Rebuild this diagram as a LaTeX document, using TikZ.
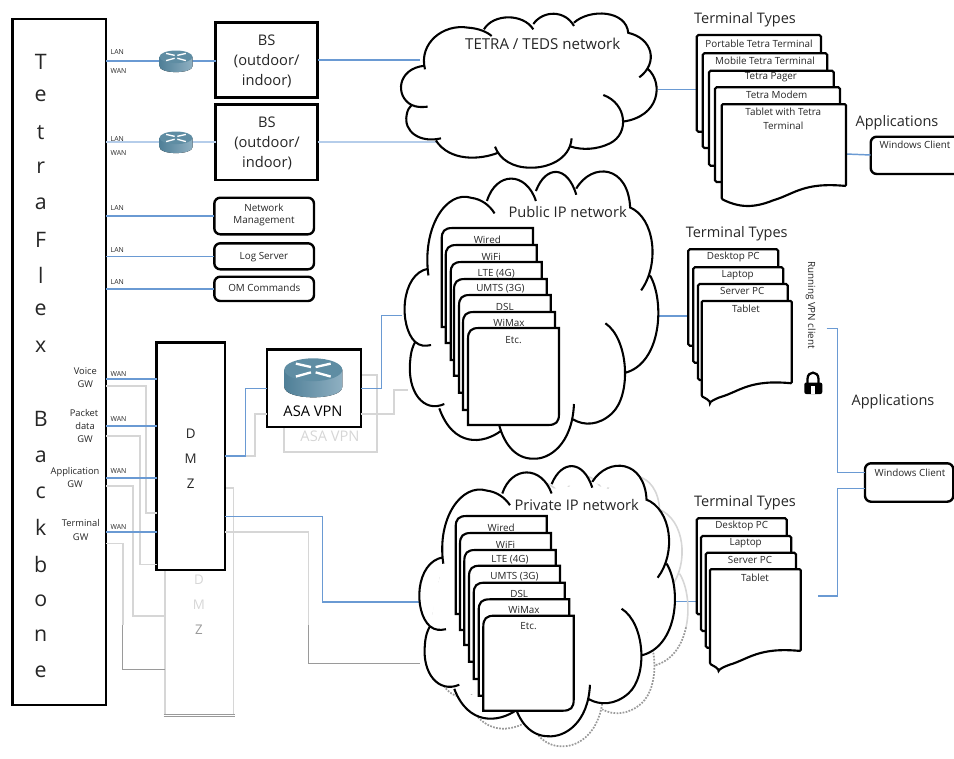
\documentclass[tikz,border=0pt]{standalone}
\usepackage{fontspec}
\setmainfont{Open Sans}
\usetikzlibrary{fit}
\definecolor{linkblue}{HTML}{6A9AD3}
\definecolor{linkpale}{HTML}{B5CDEA}
\definecolor{ghost}{HTML}{D6D6D6}
\definecolor{ghostdark}{HTML}{9A9A9A}
\definecolor{ink}{HTML}{262626}
\definecolor{routerA}{HTML}{4F7F97}
\definecolor{routerB}{HTML}{8FB0C2}
\definecolor{routerTop}{HTML}{5F8DA3}
\newcounter{lbl}
\newcommand{\lab}[4][]{\stepcounter{lbl}\node[txt,#1] (lbl\thelbl) at (#2,#3) {#4};}
\newcommand{\cloudarcs}{
 (75,208) .. controls (55,130) and (130,70) .. (205,83) .. controls (235,85) and (260,95) .. (275,108)
 (252,88) .. controls (280,40) and (370,40) .. (400,88)
 (400,72) .. controls (430,30) and (495,30) .. (522,78)
 (522,68) .. controls (570,25) and (680,30) .. (685,100)
 (683,98) .. controls (760,115) and (775,190) .. (718,232)
 (745,208) .. controls (790,250) and (780,350) .. (668,365)
 (610,285) .. controls (680,310) and (690,400) .. (630,430) .. controls (590,450) and (545,450) .. (513,440)
 (515,415) .. controls (510,480) and (440,505) .. (390,503) .. controls (340,503) and (300,480) .. (285,440)
 (295,458) .. controls (240,480) and (150,485) .. (108,422)
 (123,415) .. controls (60,430) and (10,395) .. (20,345) .. controls (22,330) and (28,322) .. (35,315)
 (35,315) .. controls (50,322) and (65,322) .. (83,320)
 (35,315) .. controls (-15,290) and (-10,205) .. (75,197)
}
\newcommand{\cloudfill}{
 \fill[white] \cloudarcs;
 \fill[white] (75,200) -- (252,88) -- (400,80) -- (522,72) -- (685,100) -- (745,208) -- (668,365) -- (630,430) -- (513,440) -- (390,503) -- (285,450) -- (108,422) -- (20,345) -- (35,315) -- cycle;
}
\newcommand{\stacktab}[6]{
 \draw[stackline,fill=white] (#1,#4) -- (#1,{#2+11}) .. controls (#1,{#2+3}) and ({#1+3},#2) .. ({#1+11},#2) -- (#3,#2) -- (#3,{#4-11}) .. controls (#3,{#4-3}) and ({#3-3},#4) .. ({#3-11},#4) -- cycle;
 \lab[t8]{{(#1+#3)/2}}{{#2+#5}}{#6}
}
\newcommand{\termrect}[4]{
 \draw[stackline,fill=white,rounded corners=1.2pt] (#1,#2) rectangle (#3,#4);
}
\newcommand{\docshape}[4]{
 \draw[stackline,fill=white,rounded corners=0.8pt] (#1,#2) -- (#3,#2) -- (#3,#4)
  .. controls ({#3-42},{#4-4}) and ({#3-52},{#4+8}) .. ({#3-72},{#4+14})
  .. controls ({#3-92},{#4+22}) and ({#1+18},{#4+22}) .. (#1,{#4+13}) -- cycle;
}
\newcommand{\routericon}[4]{
 \fill[left color=routerA,right color=routerB] ({#1-#3/2},{#2-#4*.2}) -- ({#1-#3/2},{#2+#4*.25}) .. controls ({#1-#3/2},{#2+#4*.62}) and ({#1+#3/2},{#2+#4*.62}) .. ({#1+#3/2},{#2+#4*.25}) -- ({#1+#3/2},{#2-#4*.2}) -- cycle;
 \fill[routerTop] (#1,{#2-#4*.2}) ellipse[x radius=#3/2,y radius=#4*.3];
 \draw[white,line width=#3*.03pt] ({#1-#3*.3},{#2-#4*.36}) -- ({#1-#3*.04},{#2-#4*.27});
 \draw[white,line width=#3*.03pt] ({#1+#3*.3},{#2-#4*.36}) -- ({#1+#3*.04},{#2-#4*.27});
 \draw[white,line width=#3*.03pt] ({#1-#3*.3},{#2-#4*.02}) -- ({#1-#3*.04},{#2-#4*.13});
 \draw[white,line width=#3*.03pt] ({#1+#3*.3},{#2-#4*.02}) -- ({#1+#3*.04},{#2-#4*.13});
}
\tikzset{
 txt/.style={text=ink,inner sep=0pt,outer sep=0pt,anchor=center},
 t5/.style={font=\fontsize{5.2}{6}\selectfont},
 t7/.style={font=\fontsize{7}{8}\selectfont},
 t8/.style={font=\fontsize{7.4}{8}\selectfont},
 t10/.style={font=\fontsize{10}{12}\selectfont},
 thead/.style={font=\fontsize{10.9}{13}\selectfont},
 t11/.style={font=\fontsize{11}{13}\selectfont},
 t13/.style={font=\fontsize{16}{18}\selectfont},
 mainbox/.style={draw=black,line width=2pt,fill=white,inner sep=0pt,outer sep=0pt},
 softbox/.style={mainbox,line width=1.8pt,rounded corners=4.5pt},
 stackline/.style={draw=black,line width=1.6pt},
 linkmain/.style={draw=linkblue,line width=1.1pt},
 linklight/.style={draw=linkpale,line width=.8pt},
 linkghost/.style={draw=ghost,line width=1.2pt},
}
\begin{document}
\begin{tikzpicture}[x=.75pt,y=-.75pt]
\useasboundingbox (0,0) rectangle (954,758);
% coordinates that ports and icons hang on
\coordinate (r1) at (176,61);
\coordinate (r2) at (176,142);
\coordinate (tetraW1) at (420,60);
\coordinate (tetraW2) at (437,142);
\coordinate (tetraE) at (658,89.3);
\coordinate (pubW) at (402,315.7);
\coordinate (pubWg) at (408,390);
\coordinate (pubE) at (658,316);
\coordinate (privW) at (420,602);
\coordinate (privWg) at (420,663.3);
\coordinate (privE) at (675,601.7);
\coordinate (vpnEnd) at (826.7,328.3);
\coordinate (tabEnd) at (817.7,596);
% ghost boxes
\node[txt,t11,text=ghost] (ghostasa) at (330,436.7) {ASA VPN};
\draw[linkghost] (360.7,375) -- (376.7,375) -- (376.7,451.7) -- (284,451.7) -- (284,426.7);
\draw[linkghost] (225,487.7) -- (233.3,487.7) -- (233.3,715);
\draw[linkghost] (165,570) -- (165,715);
\draw[ghostdark,line width=.5pt] (163.5,714) -- (234.5,714) (163.5,716.5) -- (234.5,716.5);
\node[txt,t10,text=ghost] (ghostd) at (199,580) {D};
\node[txt,t10,text=ghost] (ghostm) at (199,605) {M};
\node[txt,t10,text=ghostdark] (ghostz) at (199,629.3) {Z};
% main boxes
\node[mainbox,fit={(12.3,19)(106,705)}] (tf) {};
\node[mainbox,fit={(215.7,22.3)(317.7,97.7)}] (bs1) {};
\node[mainbox,fit={(215.7,104.3)(317.7,180)}] (bs2) {};
\node[softbox,fit={(214.3,197.7)(314,234.3)}] (nm) {};
\node[softbox,fit={(214.3,243.3)(314,269.3)}] (logs) {};
\node[softbox,fit={(214.3,276.7)(314,301)}] (om) {};
\node[mainbox,fit={(156.7,342.3)(225,570)}] (dmz) {};
\node[mainbox,line width=1.8pt,fit={(266.7,349.3)(360.7,426.7)}] (asa) {};
\node[softbox,fit={(870.7,136.7)(960,174)}] (wc1) {};
\node[softbox,fit={(865,463.3)(953.3,501.7)}] (wc2) {};
% grey connectors
\draw[linkghost] (tf.east |- 0,385.7) -- (145.7,385.7) |- (dmz.west |- 0,512.7);
\draw[linkghost] (tf.east |- 0,436) -- (140,436) |- (dmz.west |- 0,564.3);
\draw[linkghost] (tf.east |- 0,485.7) -- (132.7,485.7) |- (165,615.7);
\draw[linkghost] (tf.east |- 0,543.3) -- (122.7,543.3) -- (122.7,625);
\draw[ghostdark,line width=.6pt] (122.7,625) -- (122.7,669.3) -- (165,669.3);
\draw[linkghost] (dmz.east |- 0,456) -- (255,456) |- (asa.west |- 0,414);
\draw[linkghost] (asa.east |- 0,414) -- (376.7,414) -- (394,414) |- (pubWg);
\draw[linkghost] (dmz.east |- 0,531.7) -- (308.3,531.7) -- (308.3,625);
\draw[ghostdark,line width=.7pt] (308.3,625) -- (308.3,663.3) -- (privWg);
% blue connectors
\draw[linkmain] (tf.east |- r1) -- (r1) -- (bs1.west |- r1);
\draw[linkmain] (bs1.east |- tetraW1) -- (tetraW1);
\draw[linklight] (tf.east |- r2) -- (r2) -- (bs2.west |- r2);
\draw[linklight] (bs2.east |- tetraW2) -- (tetraW2);
\draw[linkmain] (tf.east |- nm) -- (nm.west);
\draw[linkmain] (tf.east |- logs) -- (logs.west);
\draw[linkmain] (tf.east |- om) -- (om.west);
\foreach \yy in {379,426,478,532} {\draw[linkmain] (tf.east |- 0,\yy) -- (dmz.west |- 0,\yy);}
\draw[linkmain] (dmz.east |- 0,456) -- (245.7,456) |- (asa.west |- 0,388.3);
\draw[linkmain] (asa.east |- 0,388.3) -- (381.7,388.3) |- (pubW);
\draw[linkmain] (dmz.east |- 0,516.7) -- (322.3,516.7) |- (privW);
\draw[linkmain] (tetraE) -- (696.7,89.3);
\draw[linkmain] (pubE) -- (688.3,316);
\draw[linkmain] (privE) -- (696.7,601.7);
\draw[linkmain] (846,154) -- (wc1.west |- 0,155);
\draw[linkmain] (vpnEnd) -- (837.3,328.3) |- (wc2.west |- 0,472.3);
\draw[linkmain] (wc2.west |- 0,488.3) -- (837.3,488.3) |- (tabEnd);
% ghost cloud behind the private network
\begin{scope}[shift={(431.3,452)},xscale=.3333,yscale=.585]
 \begin{scope}
  \clip (-100,-100) rectangle (900,300);
  \draw[ghost,line width=1.2pt] \cloudarcs;
 \end{scope}
 \begin{scope}
  \clip (-100,300) rectangle (900,700);
  \draw[ghostdark,line width=1.3pt,densely dotted] \cloudarcs;
 \end{scope}
\end{scope}
% clouds
\begin{scope}[shift={(400,0)},xscale=.3333,yscale=.3333]
 \cloudfill \draw[black,line width=1.55pt] \cloudarcs;
\end{scope}
\begin{scope}[shift={(403.6,146.3)},xscale=.3308,yscale=.621]
 \cloudfill \draw[black,line width=1.55pt] \cloudarcs;
\end{scope}
\begin{scope}[shift={(418.3,442)},xscale=.3333,yscale=.585]
 \cloudfill \draw[black,line width=1.55pt] \cloudarcs;
\end{scope}
\lab[font=\fontsize{11.3}{13}\selectfont]{542.7}{44.3}{TETRA / TEDS network}
\lab[t11]{567.7}{211.7}{Public IP network}
\lab[t11]{576.7}{505}{Private IP network}
% public stack
\stacktab{441.7}{228}{533}{327}{12}{Wired}
\stacktab{445.7}{245}{536.7}{343}{12}{WiFi}
\stacktab{450.7}{262}{541.7}{360}{12}{LTE (4G)}
\stacktab{454}{279}{546.7}{375.7}{10}{UMTS (3G)}
\stacktab{459}{295}{550.7}{392.7}{12}{DSL}
\stacktab{463}{312}{555}{410}{11}{WiMax}
\stacktab{468}{328}{559}{425}{12}{Etc.}
% private stack
\stacktab{455.7}{516}{546.7}{614}{12}{Wired}
\stacktab{460}{533}{551}{630}{12}{WiFi}
\stacktab{464.3}{550}{555.7}{645}{10}{LTE (4G)}
\stacktab{469}{565.7}{560}{661.7}{11}{UMTS (3G)}
\stacktab{473.7}{582.7}{564.7}{679}{11}{DSL}
\stacktab{478.7}{599.3}{569.3}{695.7}{11}{WiMax}
\stacktab{483.3}{615.7}{573.7}{710.7}{10}{Etc.}
% terminals: TETRA
\termrect{696.7}{35}{821}{131.7}
\lab[t8]{759}{43.3}{Portable Tetra Terminal}
\termrect{702.7}{53.3}{827.3}{148}
\lab[t8]{765}{61}{Mobile Tetra Terminal}
\termrect{709}{70.7}{833.7}{165.7}
\lab[t8]{771}{77.3}{Tetra Pager}
\termrect{715}{87.3}{840}{182}
\lab[t8]{776.7}{95}{Tetra Modem}
\docshape{721.7}{104.3}{846}{186}
\lab[t8]{783.3}{111.7}{Tablet with Tetra}
\lab[t8]{783.3}{125.7}{Terminal}
% terminals: public
\termrect{688.3}{249.3}{778.3}{345.7}
\lab[t8]{733.3}{257.3}{Desktop PC}
\termrect{693.3}{267.3}{783.3}{362.7}
\lab[t8]{737.7}{275}{Laptop}
\termrect{698}{284}{787.7}{380}
\lab[t8]{742.3}{291}{Server PC}
\docshape{701.7}{301}{791.7}{383.3}
\lab[t8]{746}{309}{Tablet}
% terminals: private
\termrect{696.7}{518.3}{786.7}{614.3}
\lab[t8]{741.7}{525.7}{Desktop PC}
\termrect{701}{536}{791.3}{631}
\lab[t8]{745.7}{543.3}{Laptop}
\termrect{705.7}{552.7}{796}{647.7}
\lab[t8]{750}{560}{Server PC}
\docshape{710}{569.3}{800.7}{651}
\lab[t8]{755}{577.3}{Tablet}
% headings
\lab[thead]{745}{20}{Terminal Types}
\lab[thead]{736.7}{234}{Terminal Types}
\lab[thead]{745}{502.3}{Terminal Types}
\lab[thead]{897}{122.7}{Applications}
\lab[thead]{893}{402}{Applications}
\lab[t8]{915}{144.3}{Windows Client}
\lab[t8]{910}{472.3}{Windows Client}
\lab[t8,rotate=-90]{810.7}{305}{Running VPN client}
% lock
\draw[black,line width=1.7pt] (807.5,384) -- (807.5,379) .. controls (807.5,370.5) and (818.5,370.5) .. (818.5,379) -- (818.5,384);
\fill[black,rounded corners=1.5pt] (804.3,382.5) rectangle (822.3,394);
\fill[white] (811,386) rectangle (815,394);
% backbone lettering
\foreach \c/\yy [count=\n] in {T/61.7,e/96,t/132.7,r/168,a/204,F/240,l/275,e/310,x/346.7,B/419,a/456.7,c/492.7,k/527,b/564,o/600.7,n/636,e/671.7}
 {\node[txt,t13] (letter\n) at (40.7,\yy) {\c};}
% box texts
\lab[t11]{266.7}{40}{BS}
\lab[t11]{266.7}{61}{(outdoor/}
\lab[t11]{266.7}{81}{indoor)}
\lab[t11]{267}{122.7}{BS}
\lab[t11]{267}{143.3}{(outdoor/}
\lab[t11]{267}{163.3}{indoor)}
\lab[t8]{264}{208}{Network}
\lab[t8]{264}{221}{Management}
\lab[t8]{264}{256.7}{Log Server}
\lab[t8]{264.3}{288}{OM Commands}
\lab[t10]{190.7}{434}{D}
\lab[t10]{190.7}{458.7}{M}
\lab[t10]{190.7}{483.3}{Z}
\lab[t11,text=black]{313}{411}{ASA VPN}
% link labels
\foreach \tt/\yy [count=\n] in {LAN/52,WAN/70.7,LAN/139,WAN/153,LAN/208,LAN/250,LAN/282,WAN/374,WAN/419.3,WAN/471,WAN/527}
 {\node[txt,t5,anchor=west] (port\n) at (110.7,\yy) {\tt};}
\lab[t7]{85.3}{370.7}{Voice}
\lab[t7]{85.3}{384}{GW}
\lab[t7]{84}{413}{Packet}
\lab[t7]{85}{426}{data}
\lab[t7]{85}{439}{GW}
\lab[t7]{75}{471.7}{Application}
\lab[t7]{75}{484.3}{GW}
\lab[t7]{80.7}{523}{Terminal}
\lab[t7]{80.7}{537}{GW}
% router icons
\routericon{176}{61}{33}{21}
\routericon{176}{142}{33}{21}
\routericon{313.3}{377.3}{58}{38}
\end{tikzpicture}
\end{document}
